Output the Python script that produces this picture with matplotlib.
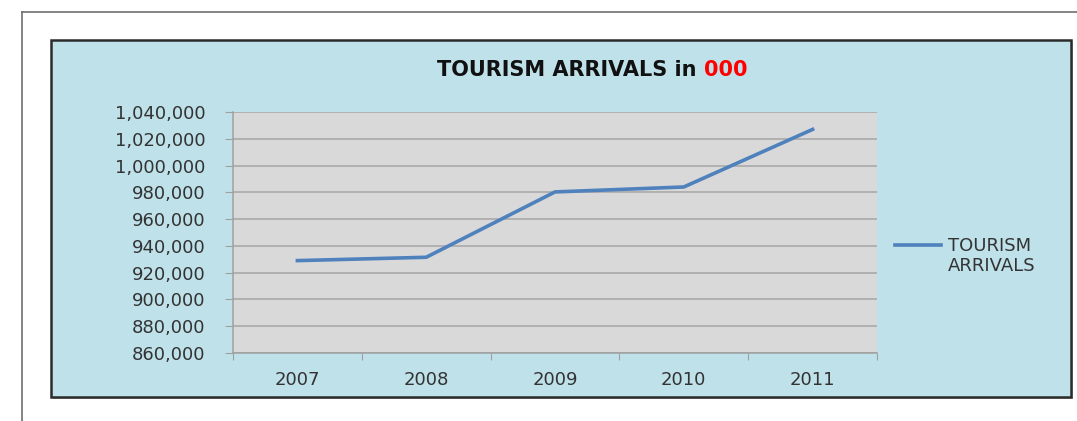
import matplotlib
matplotlib.use("Agg")
import matplotlib.pyplot as plt
from matplotlib.patches import Rectangle
from matplotlib.lines import Line2D
from matplotlib.ticker import FuncFormatter, FixedLocator

years = ["2007", "2008", "2009", "2010", "2011"]
arrivals = [929000, 931500, 980300, 984000, 1027000]
series_name = "TOURISM\nARRIVALS"
y_ticks = list(range(860000, 1040001, 20000))

W, H = 1077, 421
plt.rcParams["font.family"] = ["DejaVu Sans"]
fig = plt.figure(figsize=(W / 100, H / 100), dpi=100)
fig.patch.set_facecolor("white")


def fx(px):
    return px / W


def fy(py):
    return 1 - py / H


# page frame lines
fig.add_artist(Line2D([fx(22), fx(22)], [fy(12), 0], color="#707070", lw=1.2,
                      transform=fig.transFigure, zorder=-3))
fig.add_artist(Line2D([fx(22), 1], [fy(12), fy(12)], color="#707070", lw=1.2,
                      transform=fig.transFigure, zorder=-3))

# chart area with shadow
fig.add_artist(Rectangle((fx(53), fy(399)), fx(1020), (397 - 40) / H,
                         transform=fig.transFigure, facecolor="#9a9a9a",
                         edgecolor="none", alpha=0.6, zorder=-2))
fig.add_artist(Rectangle((fx(51), fy(397)), fx(1020), (397 - 40) / H,
                         transform=fig.transFigure, facecolor="#bfe1ea",
                         edgecolor="#2b2b2b", lw=1.8, zorder=-1))

ax = fig.add_axes([fx(233), fy(353), fx(877 - 233), (353 - 112) / H])
ax.set_facecolor("#d9d9d9")
x = list(range(len(years)))
ax.plot(x, arrivals, color="#4f81bd", lw=2.6, solid_joinstyle="round")

ax.set_xlim(-0.5, len(years) - 0.5)
ax.set_ylim(y_ticks[0], y_ticks[-1])
ax.set_yticks(y_ticks)
ax.yaxis.set_major_formatter(FuncFormatter(lambda v, p: f"{int(v):,}"))
ax.grid(axis="y", color="#a6a6a6", lw=1.1)
ax.set_axisbelow(True)

ax.xaxis.set_major_locator(FixedLocator([i - 0.5 for i in range(len(years) + 1)]))
ax.xaxis.set_major_formatter(FuncFormatter(lambda v, p: ""))
ax.xaxis.set_minor_locator(FixedLocator(x))
ax.set_xticklabels(years, minor=True)
ax.tick_params(axis="x", which="minor", length=0, pad=13, labelsize=13,
               labelcolor="#333333")
ax.tick_params(axis="x", which="major", length=5, color="#a0a0a0", direction="out")
ax.tick_params(axis="y", length=6, color="#a0a0a0", direction="out", pad=14,
               labelsize=13, labelcolor="#333333")

for s in ["top", "right"]:
    ax.spines[s].set_visible(False)
for s in ["left", "bottom"]:
    ax.spines[s].set_color("#a0a0a0")
    ax.spines[s].set_linewidth(1.1)

# title in two colours, centred as a whole
title_size = 15
t1 = fig.text(0, fy(70), "TOURISM ARRIVALS in ", fontsize=title_size,
              fontweight="bold", color="#111111", va="center", ha="left")
t2 = fig.text(0, fy(70), "000", fontsize=title_size, fontweight="bold",
              color="#ff0000", va="center", ha="left")
fig.canvas.draw()
w1 = t1.get_window_extent().width
w2 = t2.get_window_extent().width
x0 = 592 - (w1 + w2) / 2
t1.set_x(fx(x0))
t2.set_x(fx(x0 + w1))

# legend
fig.add_artist(Line2D([fx(895), fx(941)], [fy(245), fy(245)], color="#4f81bd",
                      lw=2.6, transform=fig.transFigure))
fig.text(fx(948), fy(256), series_name, fontsize=13, color="#333333",
         va="center", ha="left", linespacing=1.2)

fig.savefig("out.png", dpi=100)
